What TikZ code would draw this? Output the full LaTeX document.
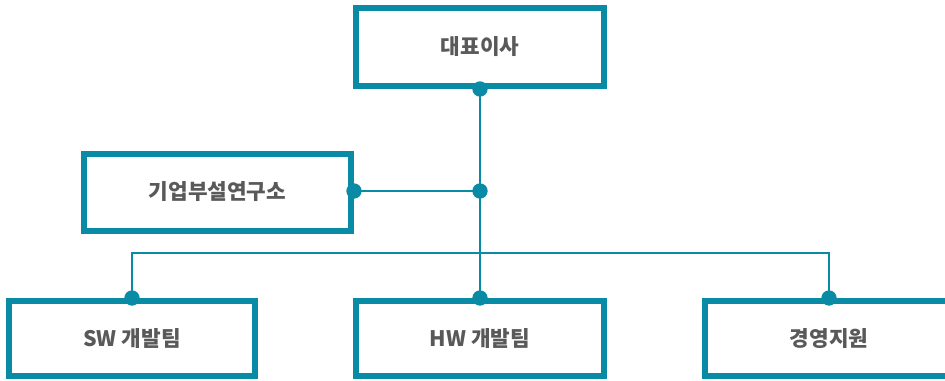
\documentclass[tikz,border=0pt]{standalone}
\usepackage{fontspec}
\setmainfont{Noto Sans CJK KR}
\definecolor{teal}{HTML}{0A8BA5}
\definecolor{textgray}{HTML}{595959}
\begin{document}
\begin{tikzpicture}[x=0.75pt, y=-0.75pt,
        orgbox/.style = {draw=teal, line width=4.5pt, fill=white, rectangle,
                         minimum width=186pt, minimum height=56.25pt,
                         text=textgray, font=\fontsize{16}{19}\selectfont\bfseries},
        link/.style = {draw=teal, line width=1.5pt},
        dot/.style = {fill=teal, circle, inner sep=0pt, minimum size=11.5pt}
    ]
        \useasboundingbox (0,0) rectangle (945,380);
        \clip (0,0) rectangle (945,380);

        % Draw boxes
        \node[orgbox, minimum height=58.5pt] (ceo) at (480,47) {대표이사};
        \node[orgbox, minimum width=200.25pt, minimum height=57.75pt] (lab) at (217.5,192) {기업부설연구소};
        \node[orgbox, minimum width=184.5pt] (sw) at (132,338.5) {SW 개발팀};
        \node[orgbox] (hw) at (480,338.5) {HW 개발팀};
        \node[orgbox] (gs) at (829,338.5) {경영지원};

        % Draw connectors
        \coordinate (j) at (480,191);
        \coordinate (bus) at (480,253);
        \draw[link] (ceo.south) -- (hw.north);
        \draw[link] (lab.east |- j) -- (j);
        \draw[link] (sw.north) |- (bus) -| (gs.north);

        % Draw dots
        \foreach \p in {ceo.south, j, lab.east |- j, sw.north, hw.north, gs.north}
            \node[dot] at (\p) {};

    \end{tikzpicture}
\end{document}
